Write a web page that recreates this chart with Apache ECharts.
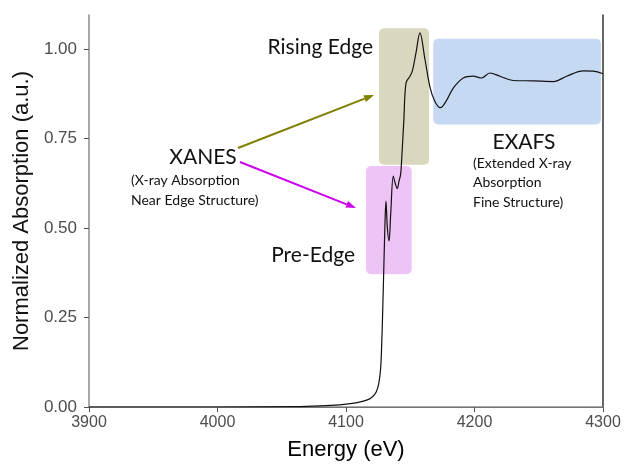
<!DOCTYPE html>
<html>
<head>
<meta charset="utf-8">
<script src="https://cdn.jsdelivr.net/npm/echarts@6/dist/echarts.min.js"></script>
<style>
html,body{margin:0;padding:0;background:#fff;}
#chart{width:626px;height:466px;}
</style>
</head>
<body>
<div id="chart"></div>
<script>
// ---- data ----
const energy = [3900, 4000, 4060, 4080, 4095, 4105, 4112, 4118, 4121, 4123.5, 4125.5, 4127, 4128, 4128.8, 4129.6, 4130.4, 4131.1, 4132.2, 4133.5, 4134.8, 4136.8, 4138.3, 4139.9, 4141.2, 4142.5, 4143.3, 4145, 4146.7, 4149.8, 4151.6, 4154.5, 4157.5, 4161.5, 4165.4, 4169, 4173.5, 4178, 4183.5, 4191.3, 4199, 4205.5, 4212, 4219.8, 4230.2, 4245.8, 4261.4, 4271.7, 4284.7, 4292.5, 4300];
const absorption = [0.000, 0.000, 0.001, 0.003, 0.006, 0.010, 0.015, 0.022, 0.030, 0.042, 0.065, 0.110, 0.200, 0.300, 0.413, 0.520, 0.575, 0.500, 0.464, 0.540, 0.645, 0.625, 0.610, 0.630, 0.650, 0.690, 0.800, 0.905, 0.924, 0.938, 0.990, 1.045, 0.970, 0.893, 0.855, 0.836, 0.855, 0.891, 0.919, 0.924, 0.919, 0.933, 0.924, 0.912, 0.911, 0.909, 0.924, 0.939, 0.938, 0.931];
const yTicks = [0, 0.25, 0.5, 0.75, 1.0];
const xTicks = [3900, 4000, 4100, 4200, 4300];
// annotation regions: [E start, E end, abs low, abs high]
const risingEdgeRegion = [4125.7, 4164.7, 0.677, 1.058];
const preEdgeRegion = [4115.6, 4151.1, 0.371, 0.673];
const exafsRegion = [4167.9, 4298.4, 0.789, 1.029];

const chart = echarts.init(document.getElementById('chart'), null, {renderer: 'canvas'});
const series = energy.map((e, i) => [e, absorption[i]]);

chart.setOption({
  animation: false,
  grid: {left: 89, right: 23, top: 15, bottom: 58, containLabel: false},
  xAxis: [{
    type: 'value', min: 3900, max: 4300, interval: 100,
    axisLine: {show: true, lineStyle: {color: '#333', width: 1.2}},
    axisTick: {show: true, length: 5, lineStyle: {color: '#555'}, customValues: xTicks},
    axisLabel: {color: '#4d4d4d', fontSize: 16, fontFamily: 'Liberation Sans', margin: 8,
      customValues: xTicks, formatter: v => String(v)},
    splitLine: {show: false},
    name: 'Energy (eV)', nameLocation: 'middle', nameGap: 32,
    nameTextStyle: {color: '#000', fontSize: 22, fontFamily: 'Liberation Sans'}
  }, {
    type: 'value', position: 'top', min: 3900, max: 4300,
    axisLine: {show: true, lineStyle: {color: '#8a8a8a', width: 1.5}},
    axisTick: {show: false}, axisLabel: {show: false}, splitLine: {show: false}
  }],
  yAxis: [{
    type: 'value', min: 0, max: 1.095,
    axisLine: {show: true, lineStyle: {color: '#8a8a8a', width: 1.5}},
    axisTick: {show: true, length: 5, lineStyle: {color: '#555'}, customValues: yTicks},
    axisLabel: {color: '#4d4d4d', fontSize: 17, fontFamily: 'Liberation Sans', margin: 12,
      customValues: yTicks, formatter: v => v.toFixed(2)},
    splitLine: {show: false},
    name: 'Normalized Absorption (a.u.)', nameLocation: 'middle', nameGap: 56,
    nameTextStyle: {color: '#111', fontSize: 22, fontFamily: 'Liberation Sans'}
  }, {
    type: 'value', position: 'right', min: 0, max: 1.095,
    axisLine: {show: true, lineStyle: {color: '#333', width: 1.5}},
    axisTick: {show: false}, axisLabel: {show: false}, splitLine: {show: false}
  }],
  series: [{
    type: 'line', data: series, xAxisIndex: 0, yAxisIndex: 0,
    showSymbol: false, smooth: 0.35, z: 5,
    lineStyle: {color: '#111', width: 1.2}
  }]
});

function box(region, color) {
  const p1 = chart.convertToPixel({xAxisIndex: 0, yAxisIndex: 0}, [region[0], region[3]]);
  const p2 = chart.convertToPixel({xAxisIndex: 0, yAxisIndex: 0}, [region[1], region[2]]);
  return {type: 'rect', z: 1, silent: true,
    shape: {x: p1[0], y: p1[1], width: p2[0] - p1[0], height: p2[1] - p1[1], r: 5},
    style: {fill: color}};
}
function arrow(x1, y1, x2, y2, color) {
  const ang = Math.atan2(y2 - y1, x2 - x1);
  const L = 10, W = 3.5;
  const bx = x2 - L * Math.cos(ang), by = y2 - L * Math.sin(ang);
  const nx = -Math.sin(ang), ny = Math.cos(ang);
  return [
    {type: 'line', z: 10, shape: {x1: x1, y1: y1, x2: bx, y2: by}, style: {stroke: color, lineWidth: 2}},
    {type: 'polygon', z: 10, shape: {points: [[x2, y2], [bx + nx * W, by + ny * W], [bx - nx * W, by - ny * W]]}, style: {fill: color}}
  ];
}
function txt(s, x, y, size, align) {
  return {type: 'text', z: 10, x: x, y: y,
    style: {text: s, fill: '#111', font: size + 'px Lato', align: align, verticalAlign: 'middle'}};
}

const g = [
  box(risingEdgeRegion, '#d9d7be'),
  box(preEdgeRegion, '#eec3f5'),
  box(exafsRegion, '#c6d9f2'),
  ...arrow(238, 148, 374, 95, '#7f7f00'),
  ...arrow(240, 162, 356, 208, '#cc00ee'),
  txt('Rising Edge', 373, 47, 21, 'right'),
  txt('XANES', 203, 157, 21, 'center'),
  txt('(X-ray Absorption', 131, 180, 14, 'left'),
  txt('Near Edge Structure)', 131, 200, 14, 'left'),
  txt('Pre-Edge', 355, 255, 21, 'right'),
  txt('EXAFS', 524, 142, 21, 'center'),
  txt('(Extended X-ray', 473, 163, 14, 'left'),
  txt('Absorption', 473, 182, 14, 'left'),
  txt('Fine Structure)', 473, 202, 14, 'left')
];
chart.setOption({graphic: {elements: g}});
</script>
</body>
</html>
